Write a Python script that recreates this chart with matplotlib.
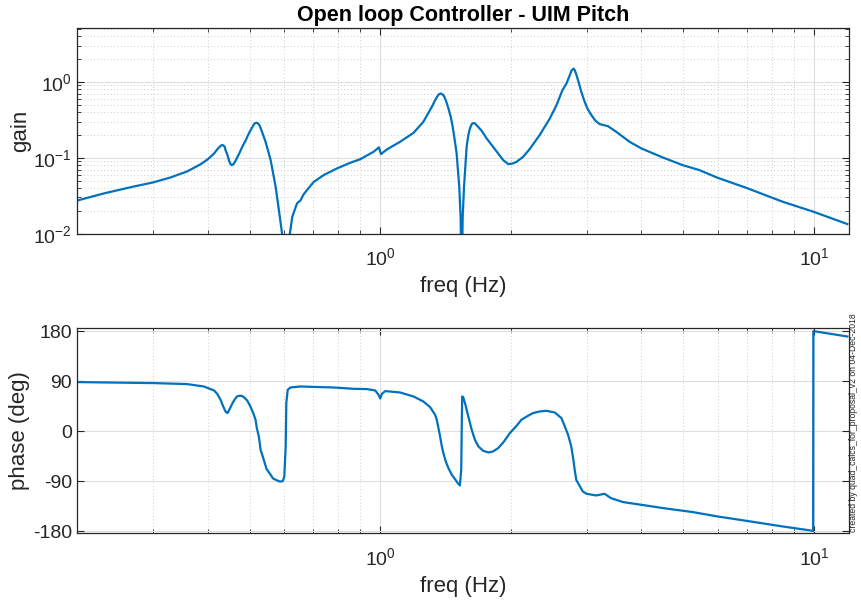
import matplotlib
matplotlib.use("Agg")
import matplotlib.pyplot as plt
from matplotlib.ticker import LogLocator, FixedLocator, NullFormatter

plt.rcParams['font.family'] = ['Liberation Sans', 'DejaVu Sans']
plt.rcParams['mathtext.default'] = 'regular'
plt.rcParams['axes.unicode_minus'] = False

# Controller frequency response: magnitude
gain_freq = [0.2009, 0.231, 0.266, 0.300, 0.329, 0.359, 0.386, 0.400, 0.414, 0.421,
             0.425, 0.430, 0.434, 0.438, 0.440, 0.4445, 0.448, 0.451, 0.4545, 0.459,
             0.464, 0.4725, 0.481, 0.490, 0.498, 0.510, 0.514, 0.519, 0.523, 0.528,
             0.534, 0.544, 0.551, 0.559, 0.574, 0.584, 0.594, 0.607, 0.619, 0.627,
             0.643, 0.655, 0.666, 0.678, 0.703, 0.741, 0.795, 0.853, 0.900, 0.965,
             0.993, 1.004, 1.036, 1.111, 1.193, 1.257, 1.315, 1.338, 1.355, 1.366,
             1.379, 1.390, 1.403, 1.418, 1.436, 1.454, 1.469, 1.485, 1.500, 1.521,
             1.532, 1.541, 1.549, 1.560, 1.582, 1.596, 1.610, 1.625, 1.639, 1.653,
             1.668, 1.713, 1.759, 1.870, 1.921, 1.972, 2.018, 2.062, 2.135, 2.212,
             2.330, 2.460, 2.548, 2.630, 2.687, 2.734, 2.758, 2.790, 2.807, 2.830,
             2.872, 2.907, 2.960, 3.010, 3.067, 3.135, 3.205, 3.349, 3.500, 3.756,
             3.997, 4.480, 4.980, 5.440, 5.990, 6.970, 8.460, 9.960, 11.93]
gain_mag = [0.0275, 0.034, 0.041, 0.0475, 0.0552, 0.0662, 0.0826, 0.0953, 0.114, 0.129,
            0.137, 0.146, 0.147, 0.140, 0.126, 0.109, 0.093, 0.084, 0.080, 0.0826,
            0.0914, 0.112, 0.140, 0.171, 0.210, 0.269, 0.286, 0.289, 0.284, 0.261,
            0.220, 0.163, 0.126, 0.0934, 0.0416, 0.0205, 0.0100, 0.0030, 0.0100, 0.0167,
            0.0251, 0.0275, 0.033, 0.0376, 0.0483, 0.0592, 0.0725, 0.086, 0.096, 0.120,
            0.137, 0.112, 0.129, 0.1625, 0.213, 0.298, 0.469, 0.574, 0.649, 0.689,
            0.704, 0.689, 0.649, 0.562, 0.447, 0.346, 0.256, 0.171, 0.114, 0.0416,
            0.0167, 0.0020, 0.0167, 0.0416, 0.140, 0.199, 0.244, 0.278, 0.287, 0.284,
            0.269, 0.227, 0.180, 0.114, 0.093, 0.0826, 0.084, 0.0886, 0.103, 0.131,
            0.199, 0.330, 0.493, 0.778, 0.953, 1.22, 1.40, 1.50, 1.43, 1.26,
            0.953, 0.738, 0.545, 0.434, 0.365, 0.307, 0.278, 0.261, 0.220, 0.1625,
            0.133, 0.101, 0.080, 0.0689, 0.0546, 0.0403, 0.0264, 0.0195, 0.0134]

# Controller frequency response: phase (wrapped to +/-180)
phase_freq = [0.200, 0.300, 0.359, 0.392, 0.414, 0.421, 0.4286, 0.433, 0.438, 0.441,
              0.4445, 0.4465, 0.452, 0.4575, 0.4625, 0.4675, 0.4725, 0.4785, 0.485, 0.4935,
              0.502, 0.509, 0.516, 0.5195, 0.525, 0.530, 0.539, 0.547, 0.559, 0.566,
              0.579, 0.586, 0.594, 0.597, 0.601, 0.6055, 0.6075, 0.612, 0.621, 0.655,
              0.690, 0.781, 0.868, 0.932, 0.974, 0.991, 1.000, 1.009, 1.027, 1.111,
              1.193, 1.257, 1.303, 1.315, 1.338, 1.350, 1.362, 1.374, 1.386, 1.398,
              1.416, 1.436, 1.462, 1.487, 1.505, 1.526, 1.537, 1.542, 1.545, 1.553,
              1.568, 1.582, 1.596, 1.625, 1.653, 1.684, 1.727, 1.776, 1.820, 1.870,
              1.921, 1.990, 2.062, 2.115, 2.190, 2.250, 2.330, 2.416, 2.525, 2.616,
              2.660, 2.710, 2.756, 2.780, 2.807, 2.830, 2.886, 2.930, 2.987, 3.149,
              3.230, 3.290, 3.400, 3.625, 3.997, 4.480, 5.250, 5.990, 6.970, 8.460,
              9.930, 9.950, 9.960, 11.93]
phase_deg = [88.2, 86.4, 84.6, 80.3, 73.1, 67.1, 56.3, 47.3, 38.3, 34.2,
             32.4, 34.7, 43.2, 51.5, 57.6, 62.3, 63.5, 63.5, 61.2, 55.1,
             44.3, 33.5, 20.3, 5.4, -9.7, -33.7, -51.7, -68.4, -78.7, -85.3,
             -88.9, -90.7, -90.7, -88.9, -81.7, -27.7, 50.4, 74.3, 78.5, 80.3,
             79.7, 78.5, 76.1, 75.6, 73.1, 65.3, 58.7, 67.1, 72.0, 69.5,
             62.3, 53.3, 43.2, 38.3, 29.3, 20.3, 5.4, -9.7, -26.5, -39.6,
             -54.7, -66.6, -78.7, -86.4, -92.5, -97.9, -69.7, 20.3, 62.3, 61.2,
             50.4, 38.3, 26.3, 2.3, -15.7, -27.7, -35.5, -38.5, -36.7, -30.6,
             -20.5, -3.6, 9.5, 20.3, 27.5, 32.4, 35.3, 36.5, 33.5, 23.4,
             9.5, -6.7, -27.7, -45.7, -69.7, -87.7, -99.7, -108.7, -112.9, -115.9,
             -114.1, -112.9, -120.6, -127.8, -132.7, -138.6, -145.8, -153.7, -161.5, -171.7,
             -179.5, -180.0, 180.0, 170.3]

phase_ticks = [-180, -90, 0, 90, 180]

LINE = '#0072BD'
TXT = '#262626'
MAJ = '#dedede'
MIN = '#bdbdbd'

fig = plt.figure(figsize=(8.62, 6.0), dpi=100)
ax1 = fig.add_axes([0.0893, 0.6105, 0.8957, 0.3428])
ax2 = fig.add_axes([0.0893, 0.1112, 0.8957, 0.3416])


def style(ax):
    for s in ax.spines.values():
        s.set_color(TXT)
        s.set_linewidth(0.9)
    ax.tick_params(which='both', direction='in', top=True, right=True,
                   colors=TXT, labelsize=14, labelcolor=TXT)
    ax.tick_params(which='major', length=5, width=0.8)
    ax.tick_params(which='minor', length=3, width=0.6)
    ax.tick_params(axis='x', which='major', pad=10)
    ax.set_axisbelow(True)


# gain
ax1.loglog(gain_freq, gain_mag, color=LINE, lw=1.6)
ax1.set_xlim(0.2, 12.04)
ax1.set_ylim(0.01, 5.13)
ax1.xaxis.set_major_locator(LogLocator(base=10, numticks=10))
ax1.xaxis.set_minor_locator(LogLocator(base=10, subs=range(2, 10), numticks=20))
ax1.xaxis.set_minor_formatter(NullFormatter())
ax1.yaxis.set_major_locator(LogLocator(base=10, numticks=10))
ax1.yaxis.set_minor_locator(LogLocator(base=10, subs=range(2, 10), numticks=20))
ax1.yaxis.set_minor_formatter(NullFormatter())
ax1.grid(which='major', color=MAJ, lw=0.8, ls='-')
ax1.grid(which='minor', color=MIN, lw=0.6, ls=(0, (1, 3)))
style(ax1)
ax1.set_xlabel('freq (Hz)', fontsize=16, color=TXT, labelpad=5)
ax1.set_ylabel('gain', fontsize=16, color=TXT, labelpad=2)
ax1.set_title('Open loop Controller - UIM Pitch', fontsize=15.5, fontweight='bold',
              color='black', pad=5)

# phase
ax2.semilogx(phase_freq, phase_deg, color=LINE, lw=1.6)
ax2.set_xlim(0.2, 12.04)
ax2.set_ylim(-184, 185)
ax2.xaxis.set_major_locator(LogLocator(base=10, numticks=10))
ax2.xaxis.set_minor_locator(LogLocator(base=10, subs=range(2, 10), numticks=20))
ax2.xaxis.set_minor_formatter(NullFormatter())
ax2.yaxis.set_major_locator(FixedLocator(phase_ticks))
ax2.set_yticklabels([str(t) for t in phase_ticks])
ax2.grid(which='major', color=MAJ, lw=0.8, ls='-')
ax2.grid(which='minor', axis='x', color=MIN, lw=0.6, ls=(0, (1, 3)))
style(ax2)
ax2.set_xlabel('freq (Hz)', fontsize=16, color=TXT, labelpad=5)
ax2.set_ylabel('phase (deg)', fontsize=16, color=TXT, labelpad=2)

fig.text(0.9896, 0.295, 'created by quad_calcs_for_proposal_v2 on 04-Dec-2018',
         rotation=90, fontsize=6.2, color=TXT, ha='center', va='center')

fig.savefig('out.png', dpi=100)
